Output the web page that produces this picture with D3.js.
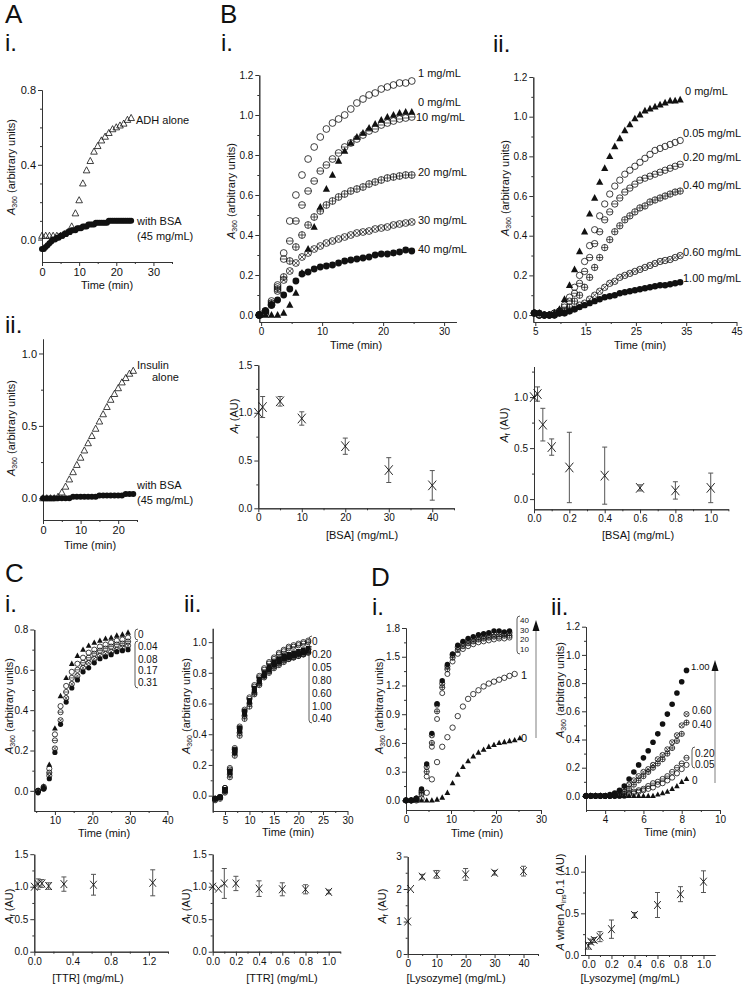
<!DOCTYPE html>
<html>
<head>
<meta charset="utf-8">
<script src="https://cdn.jsdelivr.net/npm/d3@7"></script>
<style>
  body { margin: 0; background: #fff; }
  svg text { font-family: "Liberation Sans", Arial, sans-serif; fill: #111; }
</style>
</head>
<body>
<script>
// ---- A.i  ADH aggregation (time in min, A360)
const tAdh = [0,1,2,3,4,5,6,7,8,9,10,11,12,13,14,15,16,17,18,19,20,21,22,23,24];
const adhAlone = [0.02,0.02,0.02,0.02,0.02,0.02,0.03,0.04,0.07,0.14,0.21,0.30,0.37,0.42,0.47,0.50,0.53,0.55,0.57,0.59,0.60,0.61,0.62,0.64,0.65];
const tAdhBsa = [0,0.5,1,1.5,2,2.5,3,3.5,4,4.5,5,5.5,6,6.5,7,7.5,8,8.5,9,9.5,10,10.5,11,11.5,12,12.5,13,13.5,14,14.5,15,15.5,16,16.5,17,17.5,18,18.5,19,19.5,20,20.5,21,21.5,22,22.5,23,23.5,24];
const adhBsa = [-0.05,-0.05,-0.04,-0.03,-0.02,-0.01,0.00,0.00,0.01,0.01,0.02,0.02,0.03,0.03,0.04,0.04,0.05,0.05,0.05,0.06,0.06,0.06,0.07,0.07,0.07,0.08,0.08,0.08,0.08,0.09,0.09,0.09,0.09,0.09,0.09,0.09,0.10,0.10,0.10,0.10,0.10,0.10,0.10,0.10,0.10,0.10,0.10,0.10,0.10];

// ---- A.ii insulin
const tIns = [0,1,2,3,4,5,6,7,8,9,10,11,12,13,14,15,16,17,18,19,20,21,22,23,24];
const insAlone = [0.0,0.0,0.0,0.0,0.01,0.04,0.08,0.13,0.18,0.23,0.28,0.33,0.38,0.43,0.48,0.53,0.58,0.63,0.68,0.72,0.76,0.80,0.83,0.86,0.88];
const insBsa = [0.0,0.0,0.0,0.0,0.0,0.0,0.0,0.0,0.01,0.01,0.01,0.01,0.01,0.01,0.01,0.02,0.02,0.02,0.02,0.02,0.02,0.02,0.03,0.03,0.03];

// ---- B.i  high [BSA] series
const tB1 = [-0.3,0.7,1.7,2.7,3.7,4.7,5.7,6.7,7.7,8.7,9.7,10.7,11.7,12.7,13.7,14.7,15.7,16.7,17.7,18.7,19.7,20.7,21.7,22.7,23.7,24.7];
const b1_1  = [0.00,0.01,0.05,0.15,0.31,0.47,0.60,0.70,0.78,0.84,0.89,0.93,0.96,0.98,1.00,1.03,1.06,1.08,1.10,1.11,1.13,1.14,1.15,1.16,1.16,1.17];
const b1_0  = [0.00,0.00,0.00,0.00,0.01,0.05,0.11,0.21,0.33,0.44,0.54,0.63,0.70,0.77,0.82,0.86,0.89,0.91,0.935,0.955,0.975,0.99,1.00,1.01,1.015,1.015];
const b1_10 = [0.00,0.02,0.07,0.14,0.28,0.37,0.47,0.55,0.62,0.67,0.72,0.75,0.78,0.81,0.84,0.86,0.88,0.90,0.92,0.93,0.95,0.96,0.97,0.98,0.985,0.99];
const b1_20 = [0.00,0.02,0.06,0.13,0.19,0.27,0.34,0.40,0.45,0.49,0.52,0.55,0.57,0.59,0.605,0.62,0.63,0.64,0.655,0.665,0.675,0.685,0.69,0.695,0.70,0.70];
const b1_30 = [0.00,0.01,0.05,0.12,0.175,0.22,0.26,0.29,0.31,0.33,0.345,0.36,0.37,0.38,0.39,0.40,0.41,0.415,0.42,0.43,0.435,0.44,0.45,0.455,0.46,0.465];
const b1_40 = [0.00,0.02,0.05,0.075,0.10,0.13,0.17,0.205,0.215,0.23,0.24,0.245,0.25,0.26,0.27,0.275,0.28,0.285,0.29,0.30,0.305,0.305,0.31,0.315,0.325,0.32];

// ---- B.ii low [BSA] series
const tB2 = [4.8,5.8,6.8,7.8,8.8,9.8,10.8,11.8,12.8,13.8,14.8,15.8,16.8,17.8,18.8,19.8,20.8,21.8,22.8,23.8,24.8,25.8,26.8,27.8,28.8,29.8,30.8,31.8,32.8,33.8];
const b2_0   = [0.01,0.01,0.00,0.00,0.01,0.03,0.08,0.15,0.23,0.32,0.42,0.51,0.59,0.67,0.74,0.80,0.85,0.89,0.93,0.96,0.99,1.01,1.03,1.04,1.05,1.06,1.07,1.08,1.08,1.085];
const b2_005 = [0.01,0.00,0.00,0.00,0.01,0.02,0.05,0.09,0.14,0.20,0.27,0.35,0.43,0.50,0.56,0.61,0.65,0.68,0.71,0.73,0.75,0.77,0.79,0.81,0.83,0.84,0.85,0.86,0.87,0.88];
const b2_020 = [0.01,0.00,0.00,0.00,0.01,0.02,0.04,0.07,0.11,0.16,0.22,0.29,0.36,0.42,0.48,0.52,0.56,0.59,0.62,0.64,0.66,0.68,0.69,0.70,0.71,0.72,0.73,0.74,0.75,0.76];
const b2_040 = [0.01,0.00,0.00,0.00,0.00,0.01,0.02,0.04,0.07,0.10,0.14,0.19,0.24,0.29,0.34,0.38,0.42,0.45,0.48,0.50,0.52,0.54,0.55,0.57,0.58,0.59,0.60,0.61,0.62,0.625];
const b2_060 = [0.01,0.00,0.00,0.00,0.00,0.01,0.01,0.02,0.03,0.05,0.06,0.08,0.10,0.12,0.14,0.16,0.17,0.19,0.20,0.21,0.22,0.23,0.24,0.25,0.26,0.27,0.275,0.28,0.29,0.30];
const b2_100 = [0.01,0.01,0.00,0.00,0.00,0.01,0.01,0.02,0.03,0.04,0.05,0.06,0.07,0.08,0.09,0.095,0.10,0.11,0.115,0.12,0.125,0.13,0.135,0.14,0.145,0.15,0.15,0.155,0.16,0.165];

// ---- B summary (Af vs [BSA])
const bsaHi = [0,1,5,10,20,30,40];
const afHi = [1.0,1.06,1.12,0.94,0.65,0.40,0.24];
const afHiErr = [0,0.11,0.05,0.07,0.085,0.13,0.155];
const bsaLo = [0,0.02,0.05,0.1,0.2,0.4,0.6,0.8,1.0];
const afLo = [1.0,1.03,0.73,0.51,0.31,0.23,0.11,0.085,0.11];
const afLoErr = [0,0.07,0.16,0.08,0.345,0.28,0.03,0.085,0.145];

// ---- C.i TTR (ADH)
const tC1 = [5.5,7,8.5,10,11.5,13,14.5,16,17.5,19,20.5,22,23.5,25,26.5,28,29.5];
const c1_0   = [0.0,0.02,0.13,0.31,0.47,0.56,0.63,0.67,0.70,0.72,0.735,0.745,0.755,0.76,0.77,0.775,0.785];
const c1_004 = [0.0,0.02,0.11,0.28,0.42,0.52,0.59,0.63,0.66,0.685,0.70,0.715,0.725,0.735,0.745,0.75,0.76];
const c1_008 = [0.0,0.015,0.09,0.25,0.39,0.49,0.56,0.60,0.635,0.66,0.68,0.695,0.705,0.715,0.725,0.73,0.74];
const c1_017 = [0.0,0.01,0.075,0.21,0.35,0.46,0.53,0.57,0.61,0.635,0.655,0.67,0.68,0.69,0.70,0.71,0.72];
const c1_031 = [-0.01,0.01,0.06,0.19,0.33,0.44,0.51,0.55,0.59,0.61,0.635,0.655,0.665,0.675,0.69,0.695,0.70];

// ---- C.ii TTR (insulin)
const tC2 = [3,4,5,6,7,8,9,10,11,12,13,14,15,16,17,18,19,20,21,22];
const c2_0   = [-0.02,-0.01,0.05,0.18,0.31,0.45,0.56,0.64,0.72,0.78,0.83,0.87,0.90,0.93,0.95,0.97,0.98,0.99,1.00,1.01];
const c2_020 = [-0.02,-0.01,0.05,0.17,0.30,0.44,0.55,0.63,0.71,0.77,0.82,0.86,0.89,0.92,0.94,0.96,0.97,0.98,0.99,1.00];
const c2_005 = [-0.02,-0.01,0.04,0.16,0.30,0.44,0.55,0.62,0.70,0.76,0.80,0.84,0.87,0.89,0.91,0.92,0.93,0.94,0.95,0.96];
const c2_080 = [-0.02,-0.01,0.04,0.16,0.29,0.43,0.54,0.61,0.69,0.75,0.79,0.83,0.86,0.88,0.90,0.91,0.92,0.93,0.94,0.95];
const c2_060 = [-0.02,-0.01,0.03,0.15,0.28,0.42,0.53,0.61,0.68,0.74,0.78,0.82,0.85,0.87,0.89,0.90,0.91,0.92,0.93,0.94];
const c2_100 = [-0.02,-0.01,0.03,0.14,0.28,0.41,0.52,0.60,0.67,0.73,0.78,0.81,0.84,0.86,0.88,0.89,0.90,0.91,0.92,0.935];
const c2_040 = [-0.03,-0.02,0.02,0.12,0.26,0.39,0.50,0.58,0.66,0.72,0.77,0.80,0.83,0.85,0.87,0.89,0.90,0.91,0.92,0.93];

// ---- C summaries
const ttr1 = [0,0.04,0.08,0.15,0.31,0.62,1.24];
const afTtr1 = [1.0,1.04,1.05,1.01,1.04,1.03,1.06];
const afTtr1Err = [0,0.08,0.06,0.05,0.11,0.16,0.2];
const ttr2 = [0,0.05,0.1,0.2,0.4,0.6,0.8,1.0];
const afTtr2 = [1.0,0.97,1.05,1.05,0.97,0.96,0.96,0.92];
const afTtr2Err = [0,0,0.23,0.11,0.12,0.1,0.07,0.03];

// ---- D.i lysozyme (ADH)
const tD1 = [0,1.15,2.3,3.45,4.6,5.75,6.9,8.05,9.2,10.35,11.5,12.65,13.8,14.95,16.1,17.25,18.4,19.55,20.7,21.85,23.0,24.15,25.3];
const d1_40 = [0.0,0.0,0.02,0.12,0.38,0.70,1.01,1.25,1.42,1.53,1.62,1.66,1.69,1.71,1.73,1.74,1.75,1.77,1.77,1.76,1.77];
const d1_30 = [0.0,0.0,0.02,0.10,0.35,0.68,1.00,1.22,1.40,1.52,1.60,1.64,1.67,1.69,1.71,1.72,1.73,1.74,1.75,1.74,1.75];
const d1_20 = [0.0,0.0,0.02,0.08,0.30,0.60,0.93,1.18,1.37,1.49,1.57,1.61,1.64,1.66,1.68,1.69,1.70,1.71,1.71,1.72,1.72];
const d1_10 = [0.0,0.0,0.01,0.06,0.25,0.56,0.85,1.12,1.32,1.45,1.53,1.58,1.61,1.63,1.65,1.66,1.67,1.68,1.69,1.69,1.70];
const d1_1  = [0.0,0.0,0.0,0.02,0.08,0.22,0.40,0.56,0.66,0.76,0.88,0.98,1.06,1.11,1.15,1.19,1.22,1.24,1.26,1.28,1.30,1.32];
const d1_0  = [0.0,0.0,0.0,0.0,0.0,0.0,0.01,0.03,0.08,0.18,0.27,0.35,0.41,0.46,0.50,0.53,0.56,0.58,0.60,0.61,0.62,0.63,0.65];
const d1Legend = ["40", "30", "20", "10"];

// ---- D.ii lysozyme (insulin)
const tD2 = [3.0,3.25,3.5,3.75,4.0,4.25,4.5,4.75,5.0,5.25,5.5,5.75,6.0,6.25,6.5,6.75,7.0,7.25,7.5,7.75,8.0,8.25];
const d2_100 = [0,0,0,0,0,0.01,0.02,0.04,0.07,0.12,0.17,0.22,0.27,0.32,0.38,0.44,0.51,0.58,0.65,0.73,0.81,0.89];
const d2_060 = [0,0,0,0,0,0,0.01,0.03,0.05,0.08,0.11,0.14,0.17,0.19,0.22,0.26,0.29,0.33,0.38,0.43,0.50,0.58];
const d2_040 = [0,0,0,0,0,0,0,0.01,0.03,0.05,0.08,0.11,0.14,0.17,0.20,0.23,0.26,0.30,0.34,0.39,0.44,0.52];
const d2_020 = [0,0,0,0,0,0,0,0,0.01,0.02,0.03,0.04,0.05,0.07,0.09,0.10,0.12,0.14,0.17,0.20,0.23,0.27];
const d2_005 = [0,0,0,0,0,0,0,0,0,0.01,0.02,0.03,0.04,0.05,0.06,0.08,0.09,0.11,0.13,0.16,0.19,0.22];
const d2_0   = [0,0,0,0,0,0,0,0,0,0,0,0,0,0,0,0.01,0.02,0.03,0.05,0.07,0.10,0.12];

// ---- D summaries
const lys1 = [0,1,5,10,20,30,40];
const afLys1 = [1.0,2.0,2.38,2.45,2.45,2.5,2.55];
const afLys1Err = [0,0,0.07,0.12,0.18,0.07,0.15];
const lys2 = [0,0.02,0.05,0.1,0.2,0.4,0.6,0.8,1.0];
const aLys2 = [0.11,0.16,0.18,0.22,0.31,0.48,0.60,0.73,0.88];
const aLys2Err = [0.04,0.03,0.03,0.06,0.11,0.03,0.15,0.09,0.13];

const svg = d3.select("body").append("svg").attr("width", 745).attr("height", 987);
const INK = "#111";

// one small Origin-style plot: left + bottom axes, major and minor ticks
function panel(o) {
  const x = d3.scaleLinear().domain(o.xd).range(o.xr);
  const y = d3.scaleLinear().domain(o.yd).range(o.yr);
  const g = svg.append("g");
  const ax = g.append("g");
  ax.append("g").attr("transform", "translate(0," + o.yr[0] + ")")
    .call(d3.axisBottom(x).tickValues(o.xm).tickSize(2).tickSizeOuter(0).tickFormat(""));
  ax.append("g").attr("transform", "translate(0," + o.yr[0] + ")")
    .call(d3.axisBottom(x).tickValues(o.xt).tickSize(4).tickSizeOuter(0).tickPadding(2).tickFormat(d3.format(o.xf)));
  ax.append("g").attr("transform", "translate(" + o.xr[0] + ",0)")
    .call(d3.axisLeft(y).tickValues(o.ym).tickSize(2).tickSizeOuter(0).tickFormat(""));
  ax.append("g").attr("transform", "translate(" + o.xr[0] + ",0)")
    .call(d3.axisLeft(y).tickValues(o.yt).tickSize(4).tickSizeOuter(0).tickPadding(2).tickFormat(d3.format(o.yf)));
  ax.selectAll("path,line").attr("stroke", "#333");
  ax.selectAll("text").attr("font-size", o.fs || 10).attr("fill", INK);
  return { x, y, g };
}

function tri(cx, cy, r) {
  return "M" + cx + "," + (cy - r * 1.1) + "L" + (cx + r) + "," + (cy + r * 0.75) + "L" + (cx - r) + "," + (cy + r * 0.75) + "Z";
}

function mark(g, type, cx, cy, r) {
  if (type === "dot") {
    g.append("circle").attr("cx", cx).attr("cy", cy).attr("r", r).attr("fill", INK);
  } else if (type === "tri") {
    g.append("path").attr("d", tri(cx, cy, r)).attr("fill", INK);
  } else if (type === "otri") {
    g.append("path").attr("d", tri(cx, cy, r)).attr("fill", "none").attr("stroke", INK).attr("stroke-width", 0.8);
  } else if (type === "sq") {
    g.append("rect").attr("x", cx - r).attr("y", cy - r).attr("width", 2 * r).attr("height", 2 * r).attr("fill", INK);
  } else {
    g.append("circle").attr("cx", cx).attr("cy", cy).attr("r", r)
      .attr("fill", "none").attr("stroke", INK).attr("stroke-width", 0.8);
    let d = "";
    if (type === "circH" || type === "circP") d += "M" + (cx - r) + "," + cy + "H" + (cx + r);
    if (type === "circP") d += "M" + cx + "," + (cy - r) + "V" + (cy + r);
    if (type === "circX") {
      const q = r * 0.7;
      d += "M" + (cx - q) + "," + (cy - q) + "L" + (cx + q) + "," + (cy + q) + "M" + (cx - q) + "," + (cy + q) + "L" + (cx + q) + "," + (cy - q);
    }
    if (d) g.append("path").attr("d", d).attr("stroke", INK).attr("stroke-width", 0.7);
  }
}

function series(p, ts, vs, type, r) {
  vs.forEach((v, i) => mark(p.g, type, p.x(ts[i]), p.y(v), r));
}

// cross markers with vertical error bars
function errPoints(p, xs, vs, es, s) {
  xs.forEach((xv, i) => {
    const cx = p.x(xv), cy = p.y(vs[i]);
    if (es[i] > 0) {
      const y1 = p.y(vs[i] + es[i]), y2 = p.y(vs[i] - es[i]);
      p.g.append("path")
        .attr("d", "M" + cx + "," + y1 + "V" + y2 + "M" + (cx - 2.5) + "," + y1 + "H" + (cx + 2.5) + "M" + (cx - 2.5) + "," + y2 + "H" + (cx + 2.5))
        .attr("stroke", "#555").attr("fill", "none");
    }
    const h = s * 1.2;
    p.g.append("path")
      .attr("d", "M" + (cx - s) + "," + (cy - h) + "L" + (cx + s) + "," + (cy + h) + "M" + (cx - s) + "," + (cy + h) + "L" + (cx + s) + "," + (cy - h))
      .attr("stroke", INK).attr("fill", "none").attr("stroke-width", 0.9);
  });
}

function txt(x, y, s, size, anchor) {
  return svg.append("text").attr("x", x).attr("y", y).attr("font-size", size || 11)
    .attr("text-anchor", anchor || "start").text(s);
}

// rotated y titles: A360 (arbitrary units) / Af (AU)
function yTitle(x, cy, sub, rest) {
  const t = svg.append("text").attr("transform", "translate(" + x + "," + cy + ") rotate(-90)")
    .attr("text-anchor", "middle").attr("font-size", 11);
  t.append("tspan").attr("font-style", "italic").text("A");
  t.append("tspan").attr("font-size", 7).attr("dy", 2).text(sub);
  t.append("tspan").attr("dy", -2).text(rest);
  return t;
}

function bracket(x, ya, yb) {
  svg.append("path")
    .attr("d", "M" + (x + 3) + "," + ya + "Q" + x + "," + ya + " " + x + "," + (ya + 3) + "L" + x + "," + (yb - 3) + "Q" + x + "," + yb + " " + (x + 3) + "," + yb)
    .attr("fill", "none").attr("stroke", "#333").attr("stroke-width", 0.8);
}

function upArrow(x, yTop, yBot) {
  svg.append("line").attr("x1", x).attr("x2", x).attr("y1", yTop + 10).attr("y2", yBot)
    .attr("stroke", "#aaa").attr("stroke-width", 1.5);
  svg.append("path").attr("d", "M" + x + "," + yTop + "L" + (x + 3.5) + "," + (yTop + 11) + "L" + (x - 3.5) + "," + (yTop + 11) + "Z")
    .attr("fill", INK);
}

// panel letters
txt(5, 23, "A", 26); txt(5, 51, "i.", 24); txt(5, 333, "ii.", 24);
txt(220, 23, "B", 26); txt(221, 51, "i.", 24); txt(493, 52, "ii.", 24);
txt(5, 582, "C", 26); txt(5, 612, "i.", 24); txt(184, 612, "ii.", 24);
txt(371, 586, "D", 26); txt(372, 615, "i.", 24); txt(551, 615, "ii.", 24);

// ---------- A.i
const pA1 = panel({ xd: [0, 35], xr: [42, 172], yd: [-0.12, 0.8], yr: [262, 90], fs: 11,
  xt: [0, 10, 20, 30], xm: [5, 15, 25, 35], yt: [0, 0.4, 0.8], ym: [0.1, 0.2, 0.3, 0.5, 0.6, 0.7], xf: "d", yf: ".1f" });
series(pA1, tAdhBsa, adhBsa, "dot", 3);
series(pA1, tAdh, adhAlone, "otri", 3.3);
txt(136, 124, "ADH alone"); txt(137, 225, "with BSA"); txt(137, 240, "(45 mg/mL)");
txt(107, 289, "Time (min)", 11, "middle");
yTitle(15, 167, "360", " (arbitrary units)");

// ---------- A.ii
const pA2 = panel({ xd: [0, 25], xr: [43, 137], yd: [-0.15, 1.1], yr: [520, 339], fs: 11,
  xt: [0, 10, 20], xm: [5, 15, 25], yt: [0, 0.5, 1.0], ym: [0.25, 0.75], xf: "d", yf: ".1f" });
series(pA2, tIns, insBsa, "dot", 3);
series(pA2, tIns, insAlone, "otri", 3.3);
txt(137, 369, "Insulin"); txt(152, 381, "alone");
txt(137, 489, "with BSA"); txt(137, 504, "(45 mg/mL)");
txt(90, 549, "Time (min)", 11, "middle");
yTitle(15, 428, "360", " (arbitrary units)");

// ---------- B.i top
const pB1 = panel({ xd: [-0.3, 32], xr: [259.3, 456.3], yd: [-0.035, 1.2], yr: [322, 75],
  xt: [0, 10, 20, 30], xm: [5, 15, 25], yt: [0, 0.2, 0.4, 0.6, 0.8, 1.0, 1.2], ym: [0.1, 0.3, 0.5, 0.7, 0.9, 1.1], xf: "d", yf: ".1f" });
series(pB1, tB1, b1_40, "dot", 3.4);
series(pB1, tB1, b1_30, "circX", 3.4);
series(pB1, tB1, b1_20, "circP", 3.4);
series(pB1, tB1, b1_10, "circH", 3.4);
series(pB1, tB1, b1_0, "tri", 3.6);
series(pB1, tB1, b1_1, "circ", 3.4);
txt(418, 77, "1 mg/mL"); txt(418, 106, "0 mg/mL"); txt(416, 121, "10 mg/mL");
txt(418, 176, "20 mg/mL"); txt(418, 224, "30 mg/mL"); txt(418, 253, "40 mg/mL");
txt(356, 349, "Time (min)", 11, "middle");
yTitle(235, 191, "360", " (arbitrary units)");

// ---------- B.ii top
const pB2 = panel({ xd: [4.6, 45], xr: [533.3, 736.5], yd: [-0.035, 1.2], yr: [322, 77],
  xt: [5, 15, 25, 35, 45], xm: [10, 20, 30, 40], yt: [0, 0.2, 0.4, 0.6, 0.8, 1.0, 1.2], ym: [0.1, 0.3, 0.5, 0.7, 0.9, 1.1], xf: "d", yf: ".1f" });
series(pB2, tB2, b2_100, "dot", 3.2);
series(pB2, tB2, b2_060, "circX", 3.2);
series(pB2, tB2, b2_040, "circP", 3.2);
series(pB2, tB2, b2_020, "circH", 3.2);
series(pB2, tB2, b2_005, "circ", 3.2);
series(pB2, tB2, b2_0, "tri", 3.6);
txt(685, 95, "0 mg/mL"); txt(683, 137, "0.05 mg/mL"); txt(683, 161, "0.20 mg/mL");
txt(683, 189, "0.40 mg/mL"); txt(683, 256, "0.60 mg/mL"); txt(683, 282, "1.00 mg/mL");
txt(640, 349, "Time (min)", 11, "middle");
yTitle(509, 188, "360", " (arbitrary units)");

// ---------- B.i bottom
const pB3 = panel({ xd: [0, 45], xr: [258.3, 454], yd: [0, 1.5], yr: [508.3, 365],
  xt: [0, 10, 20, 30, 40], xm: [5, 15, 25, 35, 45], yt: [0, 0.5, 1.0, 1.5], ym: [0.25, 0.75, 1.25], xf: "d", yf: ".1f" });
errPoints(pB3, bsaHi, afHi, afHiErr, 4);
txt(362, 539, "[BSA] (mg/mL)", 11, "middle");
yTitle(238, 416, "f", " (AU)");

// ---------- B.ii bottom
const pB4 = panel({ xd: [0, 1.1], xr: [534, 728.4], yd: [-0.1, 1.3], yr: [509.3, 366.5],
  xt: [0, 0.2, 0.4, 0.6, 0.8, 1.0], xm: [0.1, 0.3, 0.5, 0.7, 0.9, 1.1], yt: [0, 0.5, 1.0], ym: [0.25, 0.75, 1.25], xf: ".1f", yf: ".1f" });
errPoints(pB4, bsaLo, afLo, afLoErr, 4);
txt(638, 539, "[BSA] (mg/mL)", 11, "middle");
yTitle(508, 425, "f", " (AU)");

// ---------- C.i top
const pC1 = panel({ xd: [4.5, 40], xr: [34.3, 167.4], yd: [-0.1, 0.8], yr: [811, 629.5],
  xt: [10, 20, 30, 40], xm: [5, 15, 25, 35], yt: [0, 0.2, 0.4, 0.6, 0.8], ym: [0.1, 0.3, 0.5, 0.7], xf: "d", yf: ".1f" });
series(pC1, tC1, c1_031, "dot", 2.6);
series(pC1, tC1, c1_017, "circX", 2.6);
series(pC1, tC1, c1_008, "circH", 2.6);
series(pC1, tC1, c1_004, "circ", 2.6);
series(pC1, tC1, c1_0, "tri", 2.9);
bracket(135, 629, 640); bracket(135, 641, 688);
txt(138, 638, "0", 10); txt(138, 650, "0.04", 10); txt(138, 662.5, "0.08", 10);
txt(138, 674, "0.17", 10); txt(138, 686, "0.31", 10);
txt(104, 837, "Time (min)", 11, "middle");
yTitle(13, 706, "360", " (arbitrary units)");

// ---------- C.ii top
const pC2 = panel({ xd: [2.5, 30], xr: [212.7, 347.5], yd: [-0.1, 1.09], yr: [811, 628.3],
  xt: [5, 10, 15, 20, 25, 30], xm: [2.5, 7.5, 12.5, 17.5, 22.5, 27.5], yt: [0, 0.2, 0.4, 0.6, 0.8, 1.0], ym: [0.1, 0.3, 0.5, 0.7, 0.9], xf: "d", yf: ".1f" });
series(pC2, tC2, c2_040, "circP", 2.6);
series(pC2, tC2, c2_100, "circX", 2.6);
series(pC2, tC2, c2_060, "sq", 2.4);
series(pC2, tC2, c2_080, "dot", 2.6);
series(pC2, tC2, c2_005, "sq", 2.4);
series(pC2, tC2, c2_020, "circH", 2.6);
series(pC2, tC2, c2_0, "circ", 2.6);
bracket(309, 636, 647); bracket(309, 649, 723);
txt(312, 645, "0", 10); txt(312, 658, "0.20", 10); txt(312, 671, "0.05", 10);
txt(312, 684, "0.80", 10); txt(312, 697, "0.60", 10); txt(312, 710, "1.00", 10); txt(312, 722, "0.40", 10);
txt(288, 836, "Time (min)", 11, "middle");
yTitle(190, 706, "360", " (arbitrary units)");

// ---------- C.i bottom
const pC3 = panel({ xd: [0, 1.4], xr: [34.3, 168], yd: [0, 1.5], yr: [951.7, 854.2],
  xt: [0, 0.4, 0.8, 1.2], xm: [0.2, 0.6, 1.0, 1.4], yt: [0, 0.5, 1.0, 1.5], ym: [0.25, 0.75, 1.25], xf: ".1f", yf: ".1f" });
errPoints(pC3, ttr1, afTtr1, afTtr1Err, 3.3);
txt(88, 982, "[TTR] (mg/mL)", 11, "middle");
yTitle(13, 906, "f", " (AU)");

// ---------- C.ii bottom
const pC4 = panel({ xd: [0, 1.1], xr: [212.7, 340.3], yd: [0, 1.5], yr: [951.7, 854.2],
  xt: [0, 0.2, 0.4, 0.6, 0.8, 1.0], xm: [0.1, 0.3, 0.5, 0.7, 0.9, 1.1], yt: [0, 0.5, 1.0, 1.5], ym: [0.25, 0.75, 1.25], xf: ".1f", yf: ".1f" });
errPoints(pC4, ttr2, afTtr2, afTtr2Err, 3.3);
txt(282, 982, "[TTR] (mg/mL)", 11, "middle");
yTitle(190, 906, "f", " (AU)");

// ---------- D.i top
const pD1 = panel({ xd: [0, 30], xr: [406, 541], yd: [-0.1, 1.8], yr: [810, 628],
  xt: [0, 10, 20, 30], xm: [5, 15, 25], yt: [0, 0.3, 0.6, 0.9, 1.2, 1.5, 1.8], ym: [0.15, 0.45, 0.75, 1.05, 1.35, 1.65], xf: "d", yf: ".1f" });
series(pD1, tD1, d1_0, "tri", 2.9);
series(pD1, tD1, d1_1, "circ", 2.7);
series(pD1, tD1, d1_10, "circ", 2.5);
series(pD1, tD1, d1_20, "circP", 2.6);
series(pD1, tD1, d1_30, "circX", 2.6);
series(pD1, tD1, d1_40, "dot", 2.7);
bracket(517, 616, 654);
d1Legend.forEach((s, i) => txt(520, 623 + i * 9.5, s, 8));
upArrow(536, 620, 738);
txt(521, 679, "1", 11); txt(521, 742, "0", 11);
txt(477, 837, "Time (min)", 11, "middle");
yTitle(383, 706, "360", " (arbitrary units)");

// ---------- D.ii top
const pD2 = panel({ xd: [3, 10], xr: [586, 720], yd: [-0.1, 1.2], yr: [810, 626.7],
  xt: [4, 6, 8, 10], xm: [3, 5, 7, 9], yt: [0, 0.2, 0.4, 0.6, 0.8, 1.0, 1.2], ym: [0.1, 0.3, 0.5, 0.7, 0.9, 1.1], xf: "d", yf: ".1f" });
series(pD2, tD2, d2_005, "circ", 2.6);
series(pD2, tD2, d2_020, "circH", 2.6);
series(pD2, tD2, d2_040, "circP", 2.6);
series(pD2, tD2, d2_060, "circX", 2.6);
series(pD2, tD2, d2_100, "dot", 2.8);
series(pD2, tD2, d2_0, "tri", 2.8);
txt(691, 670, "1.00", 9.5); upArrow(715, 660, 783);
txt(692, 714, "0.60", 10); txt(692, 728, "0.40", 10);
bracket(692, 747, 768);
txt(695, 756.5, "0.20", 10); txt(695, 767.5, "0.05", 10); txt(692, 784, "0", 10);
txt(670, 836, "Time (min)", 11, "middle");
yTitle(564, 690, "360", " (arbitrary units)");

// ---------- D.i bottom
const pD3 = panel({ xd: [0, 45], xr: [407.7, 538], yd: [0, 3], yr: [954, 856.5],
  xt: [0, 10, 20, 30, 40], xm: [5, 15, 25, 35, 45], yt: [0, 1, 2, 3], ym: [0.5, 1.5, 2.5], xf: "d", yf: "d" });
errPoints(pD3, lys1, afLys1, afLys1Err, 3.3);
txt(456, 982, "[Lysozyme] (mg/mL)", 11, "middle");
yTitle(386, 906, "f", " (AU)");

// ---------- D.ii bottom
const pD4 = panel({ xd: [-0.03, 1.1], xr: [585, 715], yd: [0, 1.2], yr: [955, 855],
  xt: [0, 0.2, 0.4, 0.6, 0.8, 1.0], xm: [0.1, 0.3, 0.5, 0.7, 0.9], yt: [0, 0.5, 1.0], ym: [0.25, 0.75], xf: ".1f", yf: ".1f" });
errPoints(pD4, lys2, aLys2, aLys2Err, 3.3);
txt(630, 982, "[Lysozyme] (mg/mL)", 11, "middle");
const yl = svg.append("text").attr("transform", "translate(564,902) rotate(-90)")
  .attr("text-anchor", "middle").attr("font-size", 11);
yl.append("tspan").attr("font-style", "italic").text("A");
yl.append("tspan").text(" when ");
yl.append("tspan").attr("font-style", "italic").text("A");
yl.append("tspan").attr("font-size", 7).attr("dy", 2).text("ins");
yl.append("tspan").attr("dy", -2).text("0.1 (AU)");
</script>
</body>
</html>
